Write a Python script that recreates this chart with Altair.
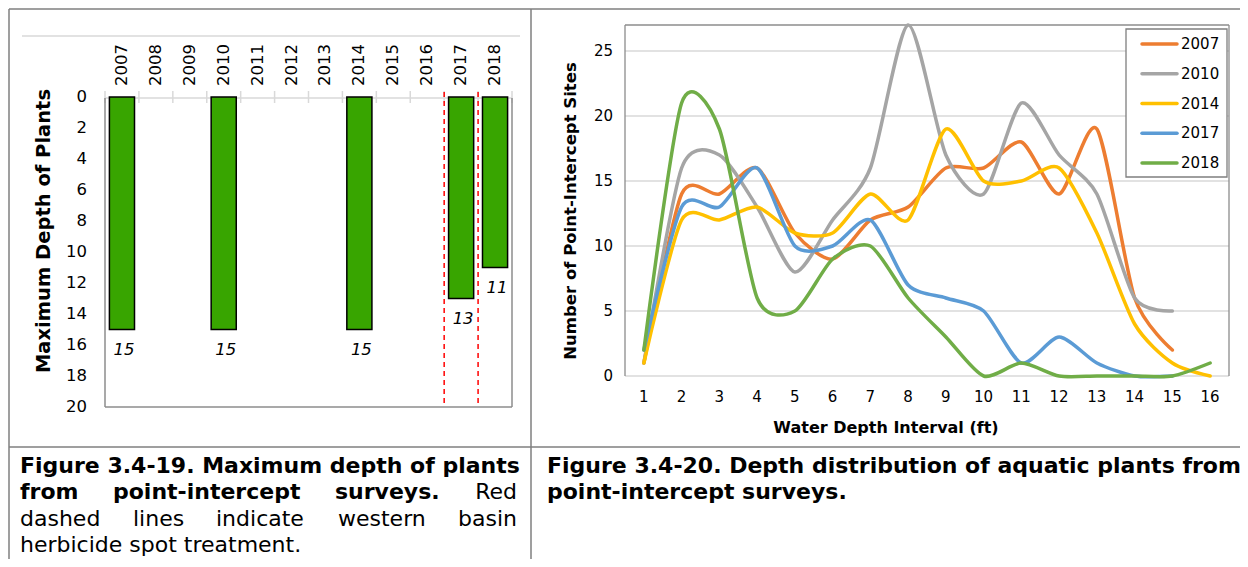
import altair as alt
import pandas as pd

# ---------------- data ----------------
survey_years = ["2007", "2008", "2009", "2010", "2011", "2012",
                "2013", "2014", "2015", "2016", "2017", "2018"]
bar_years = ["2007", "2010", "2014", "2017", "2018"]
bar_depths = [15, 15, 15, 13, 11]
treatment_years = ["2017", "2018"]
depth_ticks = [0, 2, 4, 6, 8, 10, 12, 14, 16, 18, 20]

intervals = list(range(1, 17))
series_years = ["2007", "2010", "2014", "2017", "2018"]
counts_2007 = [1, 14, 14, 16, 11, 9, 12, 13, 16, 16, 18, 14, 19, 6, 2]
counts_2010 = [1, 16, 17, 13, 8, 12, 16, 27, 17, 14, 21, 17, 14, 6, 5]
counts_2014 = [1, 12, 12, 13, 11, 11, 14, 12, 19, 15, 15, 16, 11, 4, 1, 0]
counts_2017 = [2, 13, 13, 16, 10, 10, 12, 7, 6, 5, 1, 3, 1, 0, 0]
counts_2018 = [2, 21, 19, 6, 5, 9, 10, 6, 3, 0, 1, 0, 0, 0, 0, 1]
series_colors = ["#ED7D31", "#A5A5A5", "#FFC000", "#5B9BD5", "#70AD47"]
count_ticks = [0, 5, 10, 15, 20, 25]

left_y_title = "Maximum Depth of Plants"
right_y_title = "Number of Point-Intercept Sites"
right_x_title = "Water Depth Interval (ft)"

cap_left_1 = "Figure 3.4-19. Maximum depth of plants"
cap_left_2 = ["from", "point-intercept", "surveys.", "Red"]
cap_left_3 = ["dashed", "lines", "indicate", "western", "basin"]
cap_left_4 = "herbicide spot treatment."
cap_right_1 = "Figure 3.4-20. Depth distribution of aquatic plants from"
cap_right_2 = "point-intercept surveys."

# ---------------- layout (pixels) ----------------
W, H = 1232, 551
FONT = "DejaVu Sans"
LX = [97, 504]
LY = [89, 399]
RX = [617, 1221]
RY = [368, 17]
BORDER = "#7f7f7f"
FRAME = "#8c8c8c"
LIGHT = "#d9d9d9"

one = pd.DataFrame({"a": [0]})


def rules(rows, color, width, dash=None):
    df = pd.DataFrame(rows, columns=["x", "y", "x2", "y2"])
    kw = dict(color=color, strokeWidth=width)
    if dash:
        kw["strokeDash"] = dash
    return alt.Chart(df).mark_rule(**kw).encode(
        x=alt.X("x:Q", scale=None, axis=None), x2="x2:Q",
        y=alt.Y("y:Q", scale=None, axis=None), y2="y2:Q")


def label(text, x, y, size, weight="normal", angle=0, align="center",
          style="normal", baseline="middle"):
    kw = dict(text=text, font=FONT, fontSize=size, fontWeight=weight,
              align=align, baseline=baseline, fontStyle=style, color="black")
    if angle:
        kw["angle"] = angle
    return alt.Chart(one).mark_text(**kw).encode(x=alt.value(x), y=alt.value(y))


layers = []

# ---- table borders ----
layers.append(rules([[1, 1, W, 1], [1, 1, 1, H], [523, 1, 523, H], [1, 439, W, 439]],
                    BORDER, 1.5))

# ---- left chart ----
bar_scale = alt.Scale(type="band", domain=survey_years, range=LX,
                      paddingInner=0.26, paddingOuter=0.13)
edge_scale = alt.Scale(type="band", domain=survey_years, range=LX,
                       paddingInner=0, paddingOuter=0)
depth_scale = alt.Scale(domain=[0, 20], range=LY, nice=False, zero=False)

layers.append(rules([[14, 28, 512, 28], [LX[0], 90, LX[1], 90], [LX[1], 83, LX[1], 95]],
                    LIGHT, 1.5))
years_df = pd.DataFrame({"year": survey_years})
layers.append(alt.Chart(years_df).mark_rule(color=LIGHT, strokeWidth=1.5).encode(
    x=alt.X("year:N", scale=edge_scale, bandPosition=0, axis=None),
    y=alt.value(83), y2=alt.value(95)))
layers.append(alt.Chart(pd.DataFrame({"year": treatment_years})).mark_rule(
    color="#FF0000", strokeWidth=1.5, strokeDash=[5, 4]).encode(
    x=alt.X("year:N", scale=edge_scale, bandPosition=0, axis=None),
    y=alt.value(84), y2=alt.value(399)))

bars_df = pd.DataFrame({"year": bar_years, "depth": bar_depths})
layers.append(alt.Chart(bars_df).mark_bar(color="#38A500", stroke="black",
                                          strokeWidth=1.5).encode(
    x=alt.X("year:N", scale=bar_scale, axis=None),
    y=alt.Y("depth:Q", scale=depth_scale, axis=None)))
layers.append(alt.Chart(bars_df).mark_text(font=FONT, fontSize=16.5, fontStyle="italic",
                                           dy=20, dx=2, color="black").encode(
    x=alt.X("year:N", scale=bar_scale, bandPosition=0.5, axis=None),
    y=alt.Y("depth:Q", scale=depth_scale, axis=None),
    text="depth:Q"))
layers.append(rules([[LX[0], 90, LX[0], LY[1]], [LX[1], 90, LX[1], LY[1]],
                     [LX[0], LY[1], LX[1], LY[1]]], FRAME, 1.5))
layers.append(alt.Chart(years_df).mark_text(font=FONT, fontSize=16.5, angle=270,
                                            align="left", baseline="middle",
                                            color="black").encode(
    x=alt.X("year:N", scale=edge_scale, bandPosition=0.5, axis=None),
    y=alt.value(78), text="year:N"))
layers.append(alt.Chart(pd.DataFrame({"v": depth_ticks})).mark_text(
    font=FONT, fontSize=16.5, align="right", baseline="middle", color="black").encode(
    x=alt.value(79), y=alt.Y("v:Q", scale=depth_scale, axis=None), text="v:Q"))
layers.append(label(left_y_title, 36, 223, 19.5, weight="bold", angle=270))

# ---- right chart ----
int_scale = alt.Scale(domain=[0.5, 16.5], range=RX, nice=False, zero=False)
cnt_scale = alt.Scale(domain=[0, 27], range=RY, nice=False, zero=False)
color_scale = alt.Scale(domain=series_years, range=series_colors)

layers.append(alt.Chart(pd.DataFrame({"v": count_ticks})).mark_rule(
    color=LIGHT, strokeWidth=1.3).encode(
    y=alt.Y("v:Q", scale=cnt_scale, axis=None), x=alt.value(RX[0]), x2=alt.value(RX[1])))
layers.append(rules([[RX[0], RY[1], RX[0], RY[0]], [RX[0], RY[1], RX[1], RY[1]],
                     [RX[1], RY[1], RX[1], RY[0]]], FRAME, 1.3))

rows = []
for yr, vals in zip(series_years, [counts_2007, counts_2010, counts_2014,
                                    counts_2017, counts_2018]):
    for i, v in zip(intervals, vals):
        rows.append({"year": yr, "interval": i, "count": v})
lines_df = pd.DataFrame(rows)
layers.append(alt.Chart(lines_df).mark_line(interpolate="cardinal", tension=0.25,
                                            strokeWidth=3.5,
                                            strokeCap="round", strokeJoin="round").encode(
    x=alt.X("interval:Q", scale=int_scale, axis=None),
    y=alt.Y("count:Q", scale=cnt_scale, axis=None),
    color=alt.Color("year:N", scale=color_scale, legend=None)))

layers.append(alt.Chart(pd.DataFrame({"v": intervals})).mark_text(
    font=FONT, fontSize=15, baseline="middle", color="black").encode(
    x=alt.X("v:Q", scale=int_scale, axis=None), y=alt.value(389), text="v:Q"))
layers.append(alt.Chart(pd.DataFrame({"v": count_ticks})).mark_text(
    font=FONT, fontSize=15, align="right", baseline="middle", color="black").encode(
    x=alt.value(605), y=alt.Y("v:Q", scale=cnt_scale, axis=None), text="v:Q"))
layers.append(label(right_y_title, 563, 203, 16.5, weight="bold", angle=270))
layers.append(label(right_x_title, 878, 420, 16, weight="bold"))

# legend
layers.append(alt.Chart(one).mark_rect(fill="white", stroke=BORDER, strokeWidth=1.3).encode(
    x=alt.value(1118), x2=alt.value(1219), y=alt.value(21), y2=alt.value(169)))
leg_scale = alt.Scale(type="point", domain=series_years, range=[36, 155], padding=0)
leg_df = pd.DataFrame({"year": series_years})
layers.append(alt.Chart(leg_df).mark_rule(strokeWidth=3.5, strokeCap="round").encode(
    x=alt.value(1134), x2=alt.value(1169),
    y=alt.Y("year:N", scale=leg_scale, axis=None),
    color=alt.Color("year:N", scale=color_scale, legend=None)))
layers.append(alt.Chart(leg_df).mark_text(font=FONT, fontSize=15, align="left",
                                          baseline="middle", color="black").encode(
    x=alt.value(1173), y=alt.Y("year:N", scale=leg_scale, axis=None), text="year:N"))

# ---- captions ----
CS = 22
layers.append(label(cap_left_1, 12, 458, CS, weight="bold", align="left"))
for w, x in zip(cap_left_2[:3], [12, 105, 327]):
    layers.append(label(w, x, 484, CS, weight="bold", align="left"))
layers.append(label(cap_left_2[3], 509, 484, CS, align="right"))
for w, x in zip(cap_left_3[:4], [12, 125, 208, 330]):
    layers.append(label(w, x, 510.5, CS, align="left"))
layers.append(label(cap_left_3[4], 509, 510.5, CS, align="right"))
layers.append(label(cap_left_4, 12, 537, CS, align="left"))
layers.append(label(cap_right_1, 539, 458, CS, weight="bold", align="left"))
layers.append(label(cap_right_2, 539, 484, CS, weight="bold", align="left"))

chart = alt.layer(*layers).resolve_scale(
    x="independent", y="independent"
).properties(
    width=W, height=H, autosize=alt.AutoSizeParams(type="none"), padding=0,
    background="white"
).configure_view(stroke=None)

chart.save("out.html", embed_options={"renderer": "svg", "actions": False})
